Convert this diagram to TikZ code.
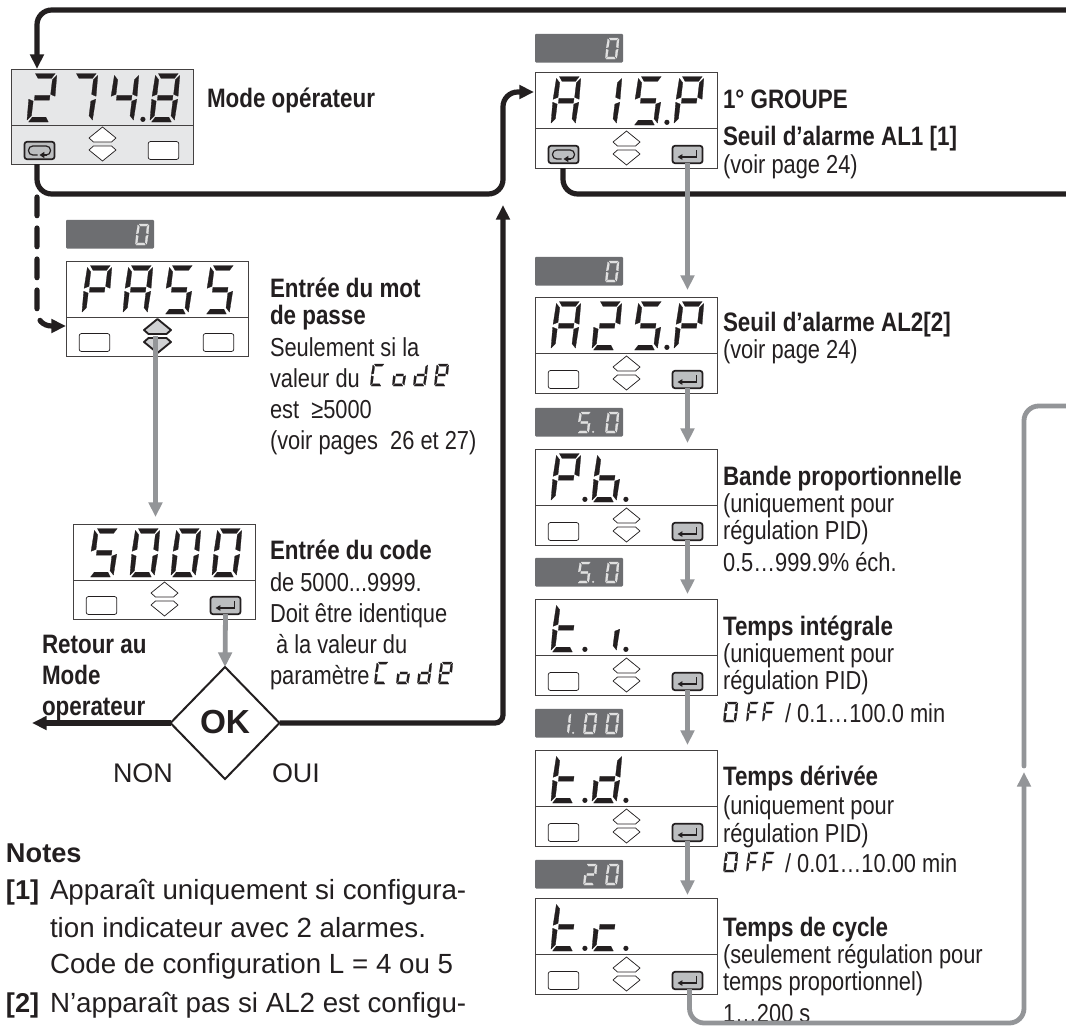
\documentclass[tikz,border=0pt]{standalone}
\usepackage{fontspec}
\usetikzlibrary{arrows.meta,calc,shapes.geometric}
\newfontfamily\fc[FakeStretch=0.84]{Liberation Sans}
\newfontfamily\fw{Liberation Sans}
\definecolor{ink}{HTML}{231F20}
\definecolor{gline}{HTML}{939598}
\definecolor{badge}{HTML}{6D6E71}
\definecolor{oplight}{HTML}{E6E7E8}
\definecolor{btngray}{HTML}{BCBEC0}
\newcommand\rg{\fc\fontsize{19.5}{21}\selectfont\color{ink}}
\newcommand\bd{\fc\bfseries\fontsize{20}{21}\selectfont\color{ink}}
\newcommand\nrg{\fw\fontsize{20.8}{22}\selectfont\color{ink}}
\newcommand\nbd{\fw\bfseries\fontsize{20.4}{22}\selectfont\color{ink}}
\tikzset{
  tipb/.tip={Triangle[length=11pt,width=10pt]},
  blk/.style={draw=ink,line width=3.9pt},
  gry/.style={draw=gline,line width=3.6pt},
  dispb/.style={draw=ink!85,line width=0.7pt,rectangle,minimum width=136.5pt,minimum height=72pt,inner sep=0pt,outer sep=0pt},
  btnp/.style={draw=ink,line width=0.55pt,fill=white,rectangle,rounded corners=1.8pt,minimum width=23pt,minimum height=13.5pt,inner sep=0pt,outer sep=0pt},
  btnh/.style={draw=ink,line width=1.3pt,fill=btngray,rectangle,rounded corners=1.8pt,minimum width=22.5pt,minimum height=13pt,inner sep=0pt,outer sep=0pt},
  bdg/.style={fill=badge,rectangle,rounded corners=0.8pt,minimum width=66pt,minimum height=21.5pt,inner sep=0pt,outer sep=0pt},
  txt/.style={anchor=base west,inner sep=0pt,outer sep=0pt},
  diam/.style={diamond,draw=ink,line width=1.5pt,fill=white,minimum width=81.75pt,minimum height=84pt,inner sep=0pt,outer sep=0pt,aspect=1},
  ua/.style={draw=ink,line width=0.55pt,fill=white,line join=round},
  uah/.style={draw=ink,line width=1.4pt,fill=btngray!70,line join=round},
}
% seven-segment glyph machinery
\newcommand\sega{\filldraw (.14,1)--(.90,1)--(.78,.90)--(.26,.90)--cycle;}
\newcommand\segd{\filldraw (.10,0)--(.86,0)--(.74,.10)--(.22,.10)--cycle;}
\newcommand\segg{\filldraw (.22,.55)--(.80,.55)--(.80,.45)--(.22,.45)--cycle;}
\newcommand\segf{\filldraw (0,.53)--(.18,.57)--(.18,.87)--(.03,.96)--cycle;}
\newcommand\sege{\filldraw (0,.47)--(.18,.43)--(.18,.13)--(.03,.04)--cycle;}
\newcommand\segb{\filldraw (1,.53)--(.82,.57)--(.82,.87)--(.97,.96)--cycle;}
\newcommand\segc{\filldraw (1,.47)--(.82,.43)--(.82,.13)--(.97,.04)--cycle;}
\def\dosegs#1{\ifx#1\relax\else\csname seg#1\endcsname\expandafter\dosegs\fi}
% \sd{x}{ybottom}{w}{h}{segments}{colour}{dot?}
\newcommand\sd[7]{\begin{scope}[shift={(#1,#2)},x={(#3*0.75pt,0pt)},y={(#4*0.09pt,#4*0.75pt)},fill=#6,draw=#6,line width=0.2pt,line join=round]
  \dosegs #5\relax
  \ifx#7d\fill (1.33,.055) circle [radius=#3*0.075pt];\fi
\end{scope}}
\newcommand\bigd[5]{\sd{#1+15+41*#2}{#3+53}{26}{48.5}{#4}{ink}{#5}}
\newcommand\updown[3]{% x centre, ybottom, style
  \path[#3] (#1-9,#2-22)--(#1-13.5,#2-26)--(#1,#2-37)--(#1+13.5,#2-26)--(#1+9,#2-22)--cycle;
  \path[#3] (#1-9,#2-18)--(#1-13.5,#2-14)--(#1,#2-3)--(#1+13.5,#2-14)--(#1+9,#2-18)--cycle;}
\newcommand\entg[1]{\begin{scope}[shift={(#1.center)}]
  \draw[draw=ink,line width=0.9pt,-{Triangle[length=3.6pt,width=4pt]}] (9,-4.5)--(9,2.5)--(-10,2.5);
\end{scope}}
\newcommand\loopg[1]{\begin{scope}[shift={(#1.center)}]
  \draw[draw=ink,line width=0.9pt,rounded corners=3.2pt] (-2,4.5)--(-11,4.5)--(-11,-4.5)--(11,-4.5)--(11,4.5)--(6,4.5);
  \draw[draw=ink,line width=0.9pt,-{Triangle[length=3.6pt,width=4.5pt]}] (7,4.5)--(0,4.5);
\end{scope}}
% \dispbox{name}{x}{ytop}{fill}{height}{left style}{right style}
\newcommand\dispbox[7]{%
  \node[dispb,fill=#4,minimum height=#5*0.75pt] (#1) at ({#2+91},{#3+#5/2}) {};
  \draw[draw=ink!85,line width=0.7pt] (#2,#3+56)--(#2+182,#3+56);
  \node[#6] (#1-l) at (#2+28.5,{#3+#5-13.5}) {};
  \node[#7] (#1-r) at (#2+152.5,{#3+#5-13.5}) {};}
\newcommand\badgenode[3]{\node[bdg] (#1) at (#2+44,#3+14.2) {};}
\newcommand\smd[4]{\sd{#1}{#2}{12}{21}{#3}{white!88!black}{#4}}
\begin{document}
\begin{tikzpicture}[x=0.75pt,y=-0.75pt]
\useasboundingbox (0,0) rectangle (1066,1028);
\fill[white] (0,0) rectangle (1066,1028);

% --- operator
\dispbox{op}{11}{69}{oplight}{95}{btnh}{btnp}
\updown{102.5}{164}{ua}
\loopg{op-l}
\bigd{11}{0}{69}{abged}{n}
\bigd{11}{1}{69}{abc}{n}
\bigd{11}{2}{69}{fgbc}{d}
\bigd{11}{3}{69}{abcdefg}{n}
\node[txt,font=\bd] (tmode) at (207,107) {Mode opérateur};

% --- PASS
\badgenode{bpass}{66}{220}
\smd{135}{245}{abcdef}{n}
\dispbox{pass}{66}{261}{white}{95}{btnp}{btnp}
\updown{157.5}{356}{uah}
\bigd{66}{0}{261}{abefg}{n}
\bigd{66}{1}{261}{abcefg}{n}
\bigd{66}{2}{261}{acdfg}{n}
\bigd{66}{3}{261}{acdfg}{n}
\node[txt,font=\bd] (tp1) at (270,297) {Entrée du mot};
\node[txt,font=\bd] (tp2) at (270,324) {de passe};
\node[txt,font=\rg] (tp3) at (270,356) {Seulement si la};
\node[txt,font=\rg] (tp4) at (270,387) {valeur du};
\node[txt,font=\rg] (tp5) at (270,418) {est \ ≥5000};
\node[txt,font=\rg] (tp6) at (270,449) {(voir pages \ 26 et 27)};
\sd{370}{386}{12.5}{22}{adef}{ink}{n}
\sd{392}{386}{12.5}{22}{cdeg}{ink}{n}
\sd{413}{386}{12.5}{22}{bcdeg}{ink}{n}
\sd{434}{386}{12.5}{22}{abdefg}{ink}{n}

% --- 5000
\dispbox{code}{73}{524}{white}{95}{btnp}{btnh}
\updown{164.5}{619}{ua}
\entg{code-r}
\bigd{73}{0}{524}{acdfg}{n}
\bigd{73}{1}{524}{abcdef}{n}
\bigd{73}{2}{524}{abcdef}{n}
\bigd{73}{3}{524}{abcdef}{n}
\node[txt,font=\bd] (tc1) at (270,559) {Entrée du code};
\node[txt,font=\rg] (tc2) at (270,591) {de 5000...9999.};
\node[txt,font=\rg] (tc3) at (270,622) {Doit être identique};
\node[txt,font=\rg] (tc4) at (270,653) {\ à la valeur du};
\node[txt,font=\rg] (tc5) at (270,684) {paramètre};
\sd{374}{684}{12.5}{22}{adef}{ink}{n}
\sd{396}{684}{12.5}{22}{cdeg}{ink}{n}
\sd{417}{684}{12.5}{22}{bcdeg}{ink}{n}
\sd{438}{684}{12.5}{22}{abdefg}{ink}{n}

% --- OK
\node[diam] (ok) at (225,723) {};
\node[anchor=center,inner sep=0pt,font=\fw\bfseries\fontsize{25}{26}\selectfont\color{ink}] (oktxt) at (225,722) {OK};
\node[txt,font=\bd] (tr1) at (42,653) {Retour au};
\node[txt,font=\bd] (tr2) at (42,684) {Mode};
\node[txt,font=\bd] (tr3) at (42,715) {operateur};
\node[txt,font=\fw\fontsize{20.2}{22}\selectfont\color{ink}] (tnon) at (113,782) {NON};
\node[txt,font=\fw\fontsize{20.2}{22}\selectfont\color{ink}] (toui) at (272,782) {OUI};

% --- A1
\badgenode{ba1}{535}{34}
\smd{605}{59}{abcdef}{n}
\dispbox{a1}{535}{72}{white}{96}{btnh}{btnh}
\updown{626.5}{168}{ua}
\loopg{a1-l}\entg{a1-r}
\bigd{535}{0}{72}{abcefg}{n}
\bigd{535}{1}{72}{bc}{n}
\bigd{535}{2}{72}{acdfg}{d}
\bigd{535}{3}{72}{abefg}{n}
\node[txt,font=\bd] (ta1) at (723,108) {1° GROUPE};
\node[txt,font=\bd] (ta2) at (723,145) {Seuil d’alarme AL1 [1]};
\node[txt,font=\rg] (ta3) at (723,173) {(voir page 24)};

% --- A2
\badgenode{ba2}{535}{257}
\smd{605}{282}{abcdef}{n}
\dispbox{a2}{535}{297}{white}{96}{btnp}{btnh}
\updown{626.5}{393}{ua}
\entg{a2-r}
\bigd{535}{0}{297}{abcefg}{n}
\bigd{535}{1}{297}{abged}{n}
\bigd{535}{2}{297}{acdfg}{d}
\bigd{535}{3}{297}{abefg}{n}
\node[txt,font=\bd] (tb1) at (723,331) {Seuil d’alarme AL2[2]};
\node[txt,font=\rg] (tb2) at (723,358) {(voir page 24)};

% --- P.b.
\badgenode{bpb}{535}{408}
\smd{577}{433}{acdfg}{d}
\smd{605}{433}{abcdef}{n}
\dispbox{pb}{535}{449}{white}{96}{btnp}{btnh}
\updown{626.5}{545}{ua}
\entg{pb-r}
\bigd{535}{0}{449}{abefg}{d}
\bigd{535}{1}{449}{cdefg}{d}
\node[txt,font=\bd] (tf1) at (723,485) {Bande proportionnelle};
\node[txt,font=\rg] (tf2) at (723,512) {(uniquement pour};
\node[txt,font=\rg] (tf3) at (723,539) {régulation PID)};
\node[txt,font=\rg] (tf4) at (723,571) {0.5…999.9\% éch.};

% --- t.i.
\badgenode{bti}{535}{558}
\smd{577}{583}{acdfg}{d}
\smd{605}{583}{abcdef}{n}
\dispbox{ti}{535}{599}{white}{96}{btnp}{btnh}
\updown{626.5}{695}{ua}
\entg{ti-r}
\bigd{535}{0}{599}{defg}{d}
\bigd{535}{1}{599}{c}{d}
\node[txt,font=\bd] (ti1) at (723,635) {Temps intégrale};
\node[txt,font=\rg] (ti2) at (723,662) {(uniquement pour};
\node[txt,font=\rg] (ti3) at (723,689) {régulation PID)};
\sd{723}{722}{13}{20}{abcdef}{ink}{n}
\sd{746}{722}{11}{20}{aefg}{ink}{n}
\sd{762}{722}{11}{20}{aefg}{ink}{n}
\node[txt,font=\rg] (ti4) at (785,722) {/ 0.1…100.0 min};

% --- t.d.
\badgenode{btd}{535}{709}
\smd{557}{734}{bc}{d}
\smd{583}{734}{abcdef}{n}
\smd{605}{734}{abcdef}{n}
\dispbox{td}{535}{750}{white}{96}{btnp}{btnh}
\updown{626.5}{846}{ua}
\entg{td-r}
\bigd{535}{0}{750}{defg}{d}
\bigd{535}{1}{750}{bcdeg}{d}
\node[txt,font=\bd] (tj1) at (723,785) {Temps dérivée};
\node[txt,font=\rg] (tj2) at (723,814) {(uniquement pour};
\node[txt,font=\rg] (tj3) at (723,842) {régulation PID)};
\sd{723}{872}{13}{20}{abcdef}{ink}{n}
\sd{746}{872}{11}{20}{aefg}{ink}{n}
\sd{762}{872}{11}{20}{aefg}{ink}{n}
\node[txt,font=\rg] (tj4) at (785,872) {/ 0.01…10.00 min};

% --- t.c.
\badgenode{btc}{535}{860}
\smd{583}{885}{abged}{n}
\smd{605}{885}{abcdef}{n}
\dispbox{tc}{535}{898}{white}{96}{btnp}{btnh}
\updown{626.5}{994}{ua}
\entg{tc-r}
\bigd{535}{0}{898}{defg}{d}
\bigd{535}{1}{898}{deg}{d}
\node[txt,font=\bd] (tk1) at (723,936) {Temps de cycle};
\node[txt,font=\rg] (tk2) at (723,963) {(seulement régulation pour};
\node[txt,font=\rg] (tk3) at (723,990) {temps proportionnel)};
\node[txt,font=\rg] (tk4) at (723,1022) {1…200 s};

% --- notes
\node[txt,font=\nbd] (n0) at (6,862) {Notes};
\node[txt,font=\nbd] (n1) at (6,899) {[1]};
\node[txt,font=\nrg] (n2) at (50,899) {Apparaît uniquement si configura-};
\node[txt,font=\nrg] (n3) at (50,937) {tion indicateur avec 2 alarmes.};
\node[txt,font=\nrg] (n4) at (50,973) {Code de configuration L = 4 ou 5};
\node[txt,font=\nbd] (n5) at (6,1012) {[2]};
\node[txt,font=\nrg] (n6) at (50,1012) {N’apparaît pas si AL2 est configu-};

% --- free ends
\coordinate (eTop) at (1066,10);
\coordinate (eBot) at (1066,194);
\coordinate (eGr) at (1066,406);
\coordinate (okUp) at (503,205);
\coordinate (okLeft) at (32,723);
\coordinate (grTip) at (1024,772);
\coordinate (grEnd) at (1024,766);

% --- black connectors
\draw[blk,rounded corners=11pt,-tipb] (eTop) -| ($(op.north west)+(26,0)$);
\draw[blk,rounded corners=11pt,-tipb] ($(op.south west)+(26,0)$) |- (503,194) -- (503,92) -- ($(a1.north west)+(-1,20)$);
\draw[blk,rounded corners=11pt] ($(a1.south west)+(28,0)$) |- (eBot);
\draw[blk,rounded corners=6pt,-tipb] (ok.east) -| (okUp);
\draw[blk,-tipb] (ok.west) -- (okLeft);
\draw[blk,line cap=round,dash pattern=on 14pt off 9.25pt,-tipb] ($(op.south west)+(26,33)$) -- (37,310) .. controls (37,320) and (43,326) .. (52,326) -- ($(pass.north west)+(0,65)$);

% --- gray connectors
\draw[gry,-tipb] ($(pass.south)+(-1.5,-20)$) -- ($(code.north)+(-8.5,-7)$);
\draw[gry,-tipb] (code-r.south) -- (ok.north);
\draw[gry,-tipb] (a1-r.south) -- ($(a2.north -| a1-r.south)+(0,-7)$);
\draw[gry,-tipb] (a2-r.south) -- ($(pb.north -| a2-r.south)+(0,-6)$);
\draw[gry,-tipb] (pb-r.south) -- ($(ti.north -| pb-r.south)+(0,-5)$);
\draw[gry,-tipb] (ti-r.south) -- ($(td.north -| ti-r.south)+(0,-5)$);
\draw[gry,-tipb] (td-r.south) -- ($(tc.north -| td-r.south)+(0,-3)$);
\draw[gry,rounded corners=11pt,-tipb] ($(tc-r.south)+(2,0)$) |- (1024,1023) -- (grTip);
\draw[gry,rounded corners=11pt,line cap=round] (eGr) -| (grEnd);
\end{tikzpicture}
\end{document}
